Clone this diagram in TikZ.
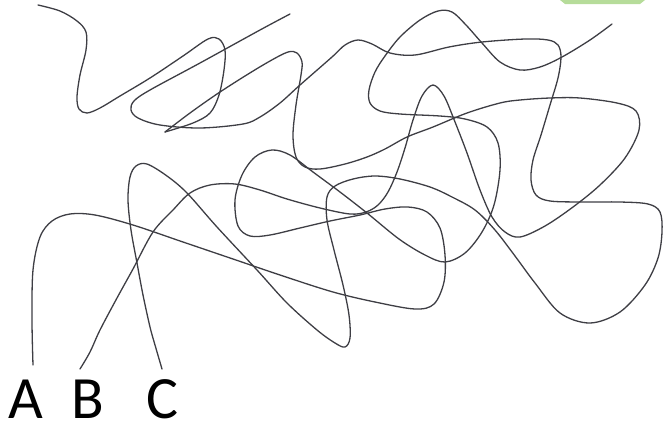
\documentclass[tikz,border=0pt]{standalone}
\usepackage{fontspec}
\setmainfont{Carlito}
\definecolor{wirecol}{RGB}{62,62,68}
\definecolor{tabgreen}{RGB}{150,205,110}
\begin{document}
\begin{tikzpicture}[x=1pt,y=-1pt,
  wire/.style={line width=1.3pt, draw=wirecol, line join=round, line cap=round},
  lbl/.style={font=\fontsize{60}{60}\selectfont, text=black, inner sep=0pt, text depth=0pt, anchor=base}]
\useasboundingbox (0,0) rectangle (664,424);
% remnant at top edge
\fill[tabgreen!70] (560,0) -- (645,0) -- (640,4) -- (565,4) -- cycle;
% labels
\node[lbl] (A) at (26,418) {A};
\node[lbl] (B) at (88,418) {B};
\node[lbl] (C) at (162,418) {C};
\coordinate (a0) at (33,365);
\coordinate (b0) at (80,369);
\coordinate (c0) at (162,369);
\coordinate (aend) at (612,24);
\coordinate (bend) at (38,5);
\coordinate (cend) at (290,14);
\coordinate (cusp) at (165,132);
% curve A
\draw[wire] plot[smooth, tension=0.55] coordinates {(a0) (32,320) (33,270) (40,237) (52,221) (70,214) (95,215) (133,225) (183,242) (233,259) (283,276) (333,292) (375,302) (415,309) (434,304) (444,282) (445,255) (440,228) (427,212) (408,207) (385,209) (360,215) (330,221) (300,228) (270,235) (250,236) (238,226) (235,200) (242,175) (255,157) (272,150) (290,155) (313,172) (340,192) (367,213) (399,239) (425,255) (445,262) (465,253) (482,232) (494,205) (500,170) (498,143) (487,127) (465,119) (440,116) (400,114) (380,111) (370,103) (369,90) (375,72) (385,56) (400,37) (420,20) (438,11) (452,12) (466,25) (482,43) (500,62) (520,70) (540,67) (562,57) (590,40) (aend)};
% curve B
\draw[wire] plot[smooth, tension=0.55] coordinates {(b0) (90,352) (100,330) (117,298) (133,269) (153,232) (173,210) (190,193) (210,185) (235,184) (260,190) (287,199) (320,208) (350,214) (366,212) (378,205) (388,192) (397,172) (405,148) (413,120) (422,96) (433,85) (444,96) (455,122) (467,153) (480,190) (492,217) (505,232) (520,237) (545,226) (573,207) (600,185) (625,158) (639,130) (636,111) (617,103) (580,98) (550,98) (520,100) (500,103) (467,113) (433,127) (407,137) (385,149) (367,157) (345,164) (320,169) (305,167) (296,157) (293,135) (296,105) (301,75) (302,62) (297,53) (288,52) (270,61) (245,76) (217,94) (190,113) (cusp)};
\draw[wire] plot[smooth, tension=0.55] coordinates {(cusp) (193,123) (210,113) (219,95) (224,70) (225,50) (219,39) (208,39) (183,56) (150,78) (120,96) (100,108) (87,113) (79,109) (77,97) (80,75) (86,50) (86,32) (77,21) (60,11) (bend)};
% curve C
\draw[wire] plot[smooth, tension=0.55] coordinates {(c0) (155,345) (150,327) (143,295) (137,263) (131,230) (128,200) (130,177) (136,166) (147,164) (167,176) (187,193) (217,227) (257,270) (287,303) (317,330) (335,343) (345,347) (350,338) (349,315) (343,285) (334,250) (327,220) (327,197) (335,186) (353,179) (375,176) (400,179) (430,187) (452,197) (475,210) (495,230) (515,256) (535,283) (560,313) (590,323) (620,312) (645,285) (658,258) (662,232) (660,212) (648,204) (620,202) (583,202) (550,201) (536,195) (531,180) (533,160) (541,135) (550,105) (558,78) (561,57) (558,45) (548,40) (525,39) (482,42) (449,47) (415,55) (390,53) (372,44) (358,40) (345,45) (332,57) (300,85) (280,103) (260,117) (243,124) (200,128) (160,125) (138,118) (131,110) (134,101) (150,90) (200,63) (260,30) (cend)};
\end{tikzpicture}
\end{document}
